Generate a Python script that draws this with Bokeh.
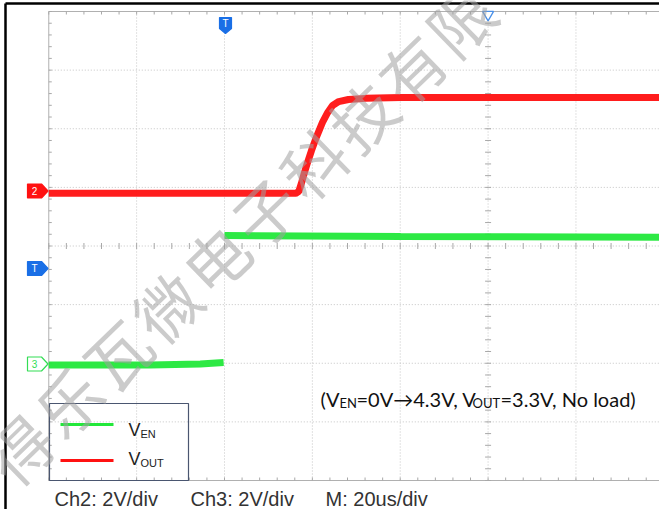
import numpy as np
from bokeh.plotting import figure
from bokeh.models import Range1d
from bokeh.core.properties import value
from bokeh.embed import file_html
from bokeh.resources import INLINE

# ---------------- data ----------------
# Ch2 : V_OUT  (time in us, voltage in V)
t_vout = [-40, 16.2, 16.9, 17.5, 18.2, 18.9, 19.8, 20.9, 22.3, 23.5, 24.6, 26.0, 28.2, 32.1, 40.1, 102]
v_vout = [-0.08, -0.08, -0.02, 0.26, 0.63, 0.97, 1.38, 1.83, 2.34, 2.68, 2.92, 3.05, 3.12, 3.16, 3.19, 3.19]
# Ch3 : V_EN  (before / after the enable step at the trigger)
t_ven_low = [-40, -16.9, -5.5, -0.2]
v_ven_low = [-0.03, -0.03, 0.0, 0.05]
t_ven_high = [0, 40.1, 102]
v_ven_high = [4.38, 4.35, 4.32]

x_div_ticks = [-40, -20, 0, 20, 40, 60, 80, 100, 120, 140, 160]   # us (20 us/div)
y_div_ticks = [-4, -3, -2, -1, 0, 1, 2, 3, 4]                     # divisions
bottom_labels = ["Ch2: 2V/div", "Ch3: 2V/div", "M: 20us/div"]
legend_names = [("V", "EN"), ("V", "OUT")]
watermark = "得乐瓦微电子科技有限"

# ---------------- screen geometry (picture pixels) ----------------
W, H = 659, 509
X_T0 = 224.0        # x of t = 0 (trigger)
PX_DIV_X = 87.86
Y_C = 245.5         # y of centre line
PX_DIV_Y = 58.625
US_DIV = 20.0
V_DIV = 2.0


def t_of(px):
    return (px - X_T0) / PX_DIV_X * US_DIV


def d_of(py):
    return (Y_C - py) / PX_DIV_Y


y_lo, y_hi = d_of(H), d_of(0)
CH2_OFF = d_of(190.5)
CH3_OFF = d_of(363.5)

p = figure(width=W, height=H, x_range=Range1d(t_of(0), t_of(W)),
           y_range=Range1d(y_lo, y_hi), output_backend="svg", toolbar_location=None,
           min_border=0, x_axis_location=None, y_axis_location=None,
           outline_line_color=None, background_fill_color="white", border_fill_color="white")
p.grid.visible = False
p.extra_y_ranges = {
    "ch2": Range1d((y_lo - CH2_OFF) * V_DIV, (y_hi - CH2_OFF) * V_DIV),
    "ch3": Range1d((y_lo - CH3_OFF) * V_DIV, (y_hi - CH3_OFF) * V_DIV),
}

# ---------------- graticule ----------------
XL, XR = x_div_ticks[0], x_div_ticks[-1]
YB, YT = y_div_ticks[0], y_div_ticks[-1]
grid_col = "#c4c4c4"
inner_x = x_div_ticks[1:]
inner_y = y_div_ticks[1:-1]
p.segment(x0=inner_x, y0=[YB] * len(inner_x), x1=inner_x, y1=[YT] * len(inner_x),
          line_color=grid_col, line_width=1, line_dash="1 2")
p.segment(x0=[XL] * len(inner_y), y0=inner_y, x1=[XR] * len(inner_y), y1=inner_y,
          line_color=grid_col, line_width=1, line_dash="1 2")
edge_col = "#b0b0b0"
p.segment(x0=[XL, XL, XL], y0=[YT, YB, YB], x1=[XR, XR, XL], y1=[YT, YB, YT],
          line_color=edge_col, line_width=1)

tl = 3 / PX_DIV_X * US_DIV
dl = 3 / PX_DIV_Y
xm = np.arange(XL, XR + 0.01, US_DIV / 5)
ym = np.arange(YB, YT + 0.001, 0.2)
XC = 60
tick_col = "#a8a8a8"
p.segment(x0=xm, y0=np.full(len(xm), YT), x1=xm, y1=np.full(len(xm), YT - dl), line_color=tick_col)
p.segment(x0=xm, y0=np.full(len(xm), YB), x1=xm, y1=np.full(len(xm), YB + dl), line_color=tick_col)
p.segment(x0=xm, y0=np.full(len(xm), -dl), x1=xm, y1=np.full(len(xm), dl), line_color=tick_col)
p.segment(x0=np.full(len(ym), XL), y0=ym, x1=np.full(len(ym), XL + tl), y1=ym, line_color=tick_col)
p.segment(x0=np.full(len(ym), XC - tl), y0=ym, x1=np.full(len(ym), XC + tl), y1=ym, line_color=tick_col)

# ---------------- traces ----------------
RED = "#ff1111"
GREEN = "#22e83a"
p.line(t_vout, v_vout, y_range_name="ch2", line_color=RED, line_width=7, line_alpha=0.95)
p.line(t_ven_low, v_ven_low, y_range_name="ch3", line_color=GREEN, line_width=7, line_alpha=0.95)
p.line(t_ven_high, v_ven_high, y_range_name="ch3", line_color=GREEN, line_width=7, line_alpha=0.95)

# ---------------- channel / trigger tags ----------------
BLUE = "#1a6fe6"


def tag_right(tx, ty, body=14, point=6.5, hh=7):
    xs = [tx - point - body, tx - point, tx, tx - point, tx - point - body]
    ys = [ty - hh, ty - hh, ty, ty + hh, ty + hh]
    return [t_of(x) for x in xs], [d_of(y) for y in ys], t_of(tx - point - body / 2), d_of(ty)


def tag_down(tx, ty, body=11, point=5, hw=6):
    xs = [tx - hw, tx + hw, tx + hw, tx, tx - hw]
    ys = [ty - point - body, ty - point - body, ty - point, ty, ty - point]
    return [t_of(x) for x in xs], [d_of(y) for y in ys], t_of(tx), d_of(ty - point - body / 2)


tags = [
    (tag_right(47.5, 190.5), RED, RED, "2", "white"),
    (tag_right(47.5, 268.0), BLUE, BLUE, "T", "white"),
    (tag_right(47.5, 363.5), "white", "#33dd55", "3", "#33dd55"),
    (tag_down(225.0, 33.0), BLUE, BLUE, "T", "white"),
]
for (xs, ys, cx, cy), fill, line, label, tcol in tags:
    p.patch(xs, ys, fill_color=fill, line_color=line, line_width=1.2)
    p.text(x=[cx], y=[cy], text=[label], text_color=tcol, text_font=value("Liberation Sans"),
           text_font_size="10px", text_align="center", text_baseline="middle")

p.scatter(x=[XC], y=[d_of(14)], marker="inverted_triangle", size=11,
          fill_color="white", line_color="#4a90e8", line_width=1.3)

# ---------------- legend box ----------------
p.quad(left=[t_of(49)], right=[t_of(188)], top=[d_of(403)], bottom=[d_of(480)],
       fill_alpha=0, line_color="#4a5670", line_width=1.2)
p.segment(x0=[t_of(60)], y0=[d_of(424)], x1=[t_of(113)], y1=[d_of(424)], line_color=GREEN, line_width=3)
p.segment(x0=[t_of(60)], y0=[d_of(460)], x1=[t_of(113)], y1=[d_of(460)], line_color=RED, line_width=3)
for (main, sub), cy in zip(legend_names, [429, 458]):
    p.text(x=[t_of(128)], y=[d_of(cy)], text=[main], text_font=value("Liberation Sans"),
           text_font_size="18px", text_color="#222222", text_baseline="middle")
    p.text(x=[t_of(140)], y=[d_of(cy + 4)], text=[sub], text_font=value("Liberation Sans"),
           text_font_size="11px", text_color="#222222", text_baseline="middle")

# ---------------- bottom scale labels ----------------
p.text(x=[t_of(54), t_of(190), t_of(325)], y=[d_of(498)] * 3, text=bottom_labels,
       text_font=value("Liberation Sans"), text_font_size="20px", text_color="#333333",
       text_baseline="middle")

# ---------------- condition note ----------------
note = [("(V", 320, 398.5, "20px"), ("EN", 339, 402.5, "13px"), ("=0V\u21924.3V, V", 356, 398.5, "20px"),
        ("OUT", 472, 402.5, "13px"), ("=3.3V, No load)", 500, 398.5, "20px")]
for txt, px, py, fs in note:
    p.text(x=[t_of(px)], y=[d_of(py)], text=[txt], text_font=value("Lato"), text_font_size=fs,
           text_color="#111111", text_baseline="middle")

# ---------------- outer frame ----------------
p.segment(x0=[t_of(5), t_of(5)], y0=[d_of(3), d_of(3)], x1=[t_of(5), t_of(W)],
          y1=[d_of(H), d_of(3)], line_color="black", line_width=2.5)

# ---------------- watermark ----------------
wx = [t_of(165 + (i - 3) * 49) for i in range(len(watermark))]
wy = [d_of(305 - (i - 3) * 47.6) for i in range(len(watermark))]
p.text(x=wx, y=wy, text=list(watermark), angle=0.77, text_font=value("Noto Sans CJK SC"),
       text_font_size="64px", text_color="#a0a0a0", text_alpha=0.55,
       text_align="center", text_baseline="middle")

open("out.html", "w").write(file_html(p, INLINE))
